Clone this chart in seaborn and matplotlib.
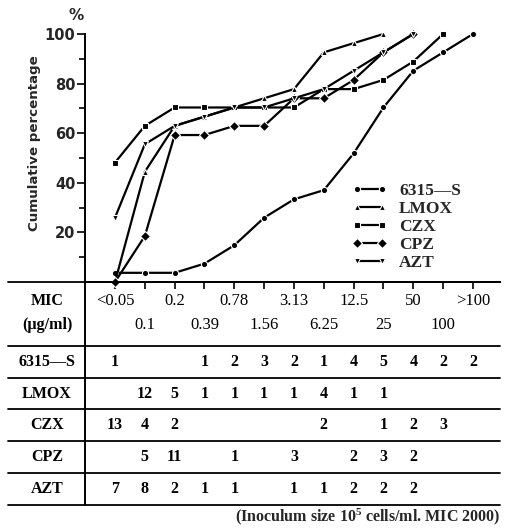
import numpy as np
import pandas as pd
import matplotlib
matplotlib.use("Agg")
import matplotlib.pyplot as plt
import seaborn as sns

# MIC classes (µg/ml) and the five agents
mic_labels = ["<0.05", "0.1", "0.2", "0.39", "0.78", "1.56", "3.13",
              "6.25", "12.5", "25", "50", "100", ">100"]
drugs = ["6315—S", "LMOX", "CZX", "CPZ", "AZT"]

# number of strains inhibited at each MIC class (0 = none)
counts_6315s = [1, 0, 0, 1, 2, 3, 2, 1, 4, 5, 4, 2, 2]
counts_lmox = [0, 12, 5, 1, 1, 1, 1, 4, 1, 1, 0, 0, 0]
counts_czx = [13, 4, 2, 0, 0, 0, 0, 2, 0, 1, 2, 3, 0]
counts_cpz = [0, 5, 11, 0, 1, 0, 3, 0, 2, 3, 2, 0, 0]
counts_azt = [7, 8, 2, 1, 1, 0, 1, 1, 2, 2, 2, 0, 0]
all_counts = [counts_6315s, counts_lmox, counts_czx, counts_cpz, counts_azt]

markers = ["o", "^", "s", "D", "v"]
marker_sizes = [4.5, 4.0, 5.0, 4.8, 4.0]

sns.set_theme(style="white")
SERIF = ["Liberation Serif", "DejaVu Serif"]
SANS = ["DejaVu Sans"]
plt.rcParams["font.family"] = SERIF
plt.rcParams["mathtext.fontset"] = "custom"
plt.rcParams["mathtext.rm"] = "Liberation Serif:bold"
plt.rcParams["mathtext.it"] = "Liberation Serif:bold"
plt.rcParams["mathtext.bf"] = "Liberation Serif:bold"

# cumulative percentage of strains inhibited, drawn up to the class reaching 100 %
rows = []
for drug, counts in zip(drugs, all_counts):
    c = np.asarray(counts, dtype=float)
    cum = np.cumsum(c) / c.sum() * 100
    last = int(np.nonzero(c)[0].max())
    for i in range(last + 1):
        rows.append({"drug": drug, "pos": i, "pct": cum[i]})
df = pd.DataFrame(rows)

W, H = 505, 532
fig = plt.figure(figsize=(W / 100, H / 100), dpi=100)

# layout in pixels
x_first, step = 115, 29.83
left_px, right_px, top_px, base_px, table_bottom_px, table_left_px = 85, 500, 34, 282, 505, 8

def xd(px):
    return (px - x_first) / step

ax = fig.add_axes([left_px / W, 1 - base_px / H, (right_px - left_px) / W, (base_px - top_px) / H])
for drug, m, ms in zip(drugs, markers, marker_sizes):
    sns.lineplot(data=df[df["drug"] == drug], x="pos", y="pct", color="black",
                 marker=m, markersize=ms, markeredgewidth=0.8, linewidth=1.6,
                 label=drug, ax=ax, sort=False, clip_on=False)

ax.set_xlim(xd(left_px), xd(right_px))
ax.set_ylim(0, 100)
ax.set_xlabel("")
ax.set_ylabel("")
ax.set_xticks(range(len(mic_labels)))
ax.set_xticklabels([])
ax.set_yticks([20, 40, 60, 80, 100])
ax.set_yticks([10, 30, 50, 70, 90], minor=True)
ax.tick_params(axis="both", which="both", direction="out", color="black",
               width=1.2, bottom=True, left=True)
ax.tick_params(axis="y", which="major", length=6, pad=1, labelsize=10.5)
ax.tick_params(axis="y", which="minor", length=4)
ax.tick_params(axis="x", which="major", length=5)
for lab in ax.get_yticklabels():
    lab.set_fontfamily(SANS)
    lab.set_fontweight("bold")
for side in ["top", "right"]:
    ax.spines[side].set_visible(False)
for side in ["left", "bottom"]:
    ax.spines[side].set_color("black")
    ax.spines[side].set_linewidth(1.4)
ax.set_facecolor("none")

leg = ax.legend(numpoints=2, frameon=False, loc="upper left",
                bbox_to_anchor=(352 / W, 1 - 183 / H), bbox_transform=fig.transFigure,
                borderpad=0, borderaxespad=0, handlelength=2.0, handletextpad=0.7,
                labelspacing=0.1, prop={"family": SERIF, "size": 12.5, "weight": "semibold"})

fig.text(76 / W, 1 - 15 / H, "%", ha="center", va="center", fontsize=11,
         fontweight="bold", family=SANS)
fig.text(35 / W, 1 - 143 / H, "Cumulative percentage", rotation=90, ha="center",
         va="center", fontsize=9.6, fontweight="bold", family=SANS)

# MIC / count table under the curves
tab = fig.add_axes([table_left_px / W, 1 - table_bottom_px / H,
                    (right_px - table_left_px) / W, (table_bottom_px - base_px) / H])
tab.set_xlim(xd(table_left_px), xd(right_px))
tab.set_ylim(7, 0)
tab.axis("off")
tab.set_facecolor("none")
for yl in [0, 2, 3, 4, 5, 6, 7]:
    tab.axhline(yl, color="black", lw=1.3, clip_on=False)
tab.plot([xd(left_px), xd(left_px)], [0, 7], color="black", lw=1.4, clip_on=False)

label_x = xd(47)
txt = dict(ha="center", va="center", fontsize=11.5, fontweight="bold", color="black")
tab.text(label_x, 0.6, "MIC", **txt)
tab.text(label_x, 1.35, "(µg/ml)", **txt)
for i, lab in enumerate(mic_labels):
    tab.text(i, 0.6 if i % 2 == 0 else 1.35, lab, ha="center", va="center",
             fontsize=12, color="black")
for r, (drug, counts) in enumerate(zip(drugs, all_counts)):
    y = 2.5 + r
    tab.text(label_x, y, drug, **txt)
    for i, n in enumerate(counts):
        if n:
            tab.text(i, y, str(n), **txt)

fig.text(500 / W, 1 - 517 / H, r"(Inoculum size 10$^{5}$ cells/ml. MIC 2000)",
         ha="right", va="center", fontsize=11.5, fontweight="semibold")

fig.savefig("out.png", dpi=100)
